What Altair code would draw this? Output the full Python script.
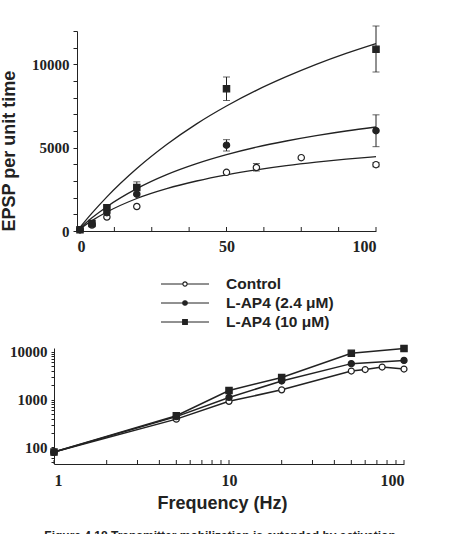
import altair as alt
import pandas as pd

INK = "#222222"
SERIF = "Liberation Serif"
SANS = "Liberation Sans"

SERIES = ["Control", "L-AP4 (2.4 μM)", "L-AP4 (10 μM)"]

# ---------- top panel: measured points (linear axes) ----------
top_ctrl_x = [1, 5, 10, 20, 50, 60, 75, 100]
top_ctrl_y = [78, 360, 840, 1470, 3520, 3810, 4400, 3980]
top_l24_x = [1, 5, 10, 20, 50, 100]
top_l24_y = [78, 420, 1100, 2210, 5150, 6020]
top_l10_x = [1, 5, 10, 20, 50, 100]
top_l10_y = [78, 450, 1400, 2610, 8540, 10900]

# error bars (top panel)
err_series = ["Control", "Control", "L-AP4 (2.4 μM)", "L-AP4 (2.4 μM)",
              "L-AP4 (10 μM)", "L-AP4 (10 μM)", "L-AP4 (10 μM)"]
err_x = [60, 100, 50, 100, 20, 50, 100]
err_lo = [3600, 3850, 4800, 5060, 2280, 7830, 9540]
err_hi = [4050, 4110, 5480, 6970, 2950, 9240, 12300]

# fitted curves (top panel)
fit_x = [0, 5, 10, 20, 30, 40, 50, 60, 70, 80, 90, 100]
fit_ctrl = [0, 625, 1140, 1950, 2540, 3000, 3370, 3670, 3920, 4130, 4310, 4460]
fit_l24 = [0, 790, 1460, 2540, 3380, 4040, 4580, 5030, 5400, 5720, 6000, 6240]
fit_l10 = [0, 1070, 2050, 3750, 5190, 6430, 7500, 8440, 9260, 10000, 10660, 11250]

# ---------- bottom panel (log-log) ----------
bot_ctrl_x = [1, 5, 10, 20, 50, 60, 75, 100]
bot_ctrl_y = [80, 390, 920, 1600, 3950, 4250, 4800, 4350]
bot_l24_x = [1, 5, 10, 20, 50, 100]
bot_l24_y = [80, 440, 1110, 2450, 5650, 6600]
bot_l10_x = [1, 5, 10, 20, 50, 100]
bot_l10_y = [80, 460, 1550, 2900, 9300, 11700]

# ---------- axis ticks / labels ----------
top_x_labels = [0, 50, 100]
top_x_ticks = [0, 12.5, 25, 37.5, 50, 62.5, 75, 87.5, 100]
top_y_ticks = [0, 1000, 2000, 3000, 4000, 5000, 6000, 7000, 8000, 9000, 10000, 11000, 12000]
top_y_labels = [0, 5000, 10000]
bot_x_labels = [1, 10, 100]
bot_x_ticks = [1, 2, 3, 4, 5, 6, 7, 8, 9, 10, 20, 30, 40, 50, 60, 70, 80, 90, 100]
bot_y_ticks = [50, 60, 70, 80, 90, 100, 200, 300, 400, 500, 600, 700, 800, 900,
               1000, 2000, 3000, 4000, 5000, 6000, 7000, 8000, 9000, 10000]
bot_y_labels = [100, 1000, 10000]

CAPTION = "Figure 4.18 Transmitter mobilization is extended by activation"


def long_df(pairs):
    rows = []
    for name, xs, ys in pairs:
        for x, y in zip(xs, ys):
            rows.append({"series": name, "x": x, "y": y})
    return pd.DataFrame(rows)


top_pts_df = long_df([(SERIES[0], top_ctrl_x, top_ctrl_y),
                      (SERIES[1], top_l24_x, top_l24_y),
                      (SERIES[2], top_l10_x, top_l10_y)])
fit_df = long_df([(SERIES[0], fit_x, fit_ctrl),
                  (SERIES[1], fit_x, fit_l24),
                  (SERIES[2], fit_x, fit_l10)])
err_df = pd.DataFrame({"series": err_series, "x": err_x, "lo": err_lo, "hi": err_hi})
bot_df = long_df([(SERIES[0], bot_ctrl_x, bot_ctrl_y),
                  (SERIES[1], bot_l24_x, bot_l24_y),
                  (SERIES[2], bot_l10_x, bot_l10_y)])
top_tick_df = pd.DataFrame({"x": top_x_ticks})
bot_tick_df = pd.DataFrame({"x": bot_x_ticks})
leg_df = pd.DataFrame({"series": SERIES})

shape_scale = alt.Scale(domain=SERIES, range=["circle", "circle", "square"])
fill_scale = alt.Scale(domain=SERIES, range=["white", INK, INK])

# ---------- top panel ----------
W_TOP, H_TOP, SHIFT = 322, 200, 23
x_top = alt.Scale(domain=[0, 100], range=[SHIFT, W_TOP], nice=False, zero=False)
y_top = alt.Scale(domain=[0, 12000], nice=False, zero=False)

top_lbl_expr = "indexof([" + ",".join(str(v) for v in top_y_labels) + "], datum.value) >= 0 ? datum.label : ''"

x_top_axis = alt.Axis(values=top_x_labels, ticks=False, grid=False, title=None,
                      labelFont=SERIF, labelFontWeight="bold", labelFontSize=16,
                      labelColor=INK, labelPadding=7, domainColor=INK, format="d",
                      labelOverlap=False)
y_top_axis = alt.Axis(values=top_y_ticks, labelExpr=top_lbl_expr, format="d", grid=False,
                      tickCount=len(top_y_ticks),
                      offset=-SHIFT, tickSize=4, tickColor=INK, domainColor=INK,
                      labelFont=SERIF, labelFontWeight="bold", labelFontSize=15,
                      labelColor=INK, labelPadding=4, labelOverlap=False,
                      title="EPSP per unit time", titleFont=SANS, titleFontWeight="bold",
                      titleFontSize=18, titleColor=INK, titleAnchor="start", titlePadding=13)


def tx(field="x"):
    return alt.X(f"{field}:Q", scale=x_top, axis=x_top_axis)


def ty(field="y"):
    return alt.Y(f"{field}:Q", scale=y_top, axis=y_top_axis)


top_fit = alt.Chart(fit_df).mark_line(color=INK, strokeWidth=1.3, interpolate="monotone").encode(
    x=tx(), y=ty(), detail="series:N")
top_err = alt.Chart(err_df).mark_rule(color=INK, strokeWidth=1).encode(
    x=tx(), y=ty("lo"), y2="hi:Q")
top_cap_lo = alt.Chart(err_df).mark_tick(orient="horizontal", size=7, thickness=1, color=INK).encode(
    x=tx(), y=ty("lo"))
top_cap_hi = alt.Chart(err_df).mark_tick(orient="horizontal", size=7, thickness=1, color=INK).encode(
    x=tx(), y=ty("hi"))
top_pts = alt.Chart(top_pts_df).mark_point(opacity=1, fillOpacity=1, strokeWidth=1.2).encode(
    x=tx(), y=ty(),
    shape=alt.Shape("series:N", scale=shape_scale, legend=None),
    fill=alt.Fill("series:N", scale=fill_scale, legend=None),
    size=alt.Size("series:N", scale=alt.Scale(domain=SERIES, range=[40, 40, 50]), legend=None),
    stroke=alt.value(INK))
top_ticks = alt.Chart(top_tick_df).mark_rule(color=INK, strokeWidth=1).encode(
    x=tx(), y=alt.value(H_TOP), y2=alt.value(H_TOP - 4))

top = alt.layer(top_fit, top_err, top_cap_lo, top_cap_hi, top_pts, top_ticks).properties(
    width=W_TOP, height=H_TOP)

# ---------- legend (between panels) ----------
W_BOT, H_BOT = 350, 116
leg_y = alt.Y("series:N", scale=alt.Scale(type="point", domain=SERIES, range=[20, 58], padding=0),
              axis=None)
leg_line = alt.Chart(leg_df).mark_rule(color=INK, strokeWidth=1).encode(
    y=leg_y, x=alt.value(107), x2=alt.value(155))
leg_pts = alt.Chart(leg_df).mark_point(opacity=1, fillOpacity=1, strokeWidth=1.1).encode(
    y=leg_y, x=alt.value(131),
    shape=alt.Shape("series:N", scale=shape_scale, legend=None),
    fill=alt.Fill("series:N", scale=fill_scale, legend=None),
    size=alt.Size("series:N", scale=alt.Scale(domain=SERIES, range=[18, 22, 26]), legend=None),
    stroke=alt.value(INK))
leg_txt = alt.Chart(leg_df).mark_text(align="left", baseline="middle", font=SANS, fontWeight="bold",
                                      fontSize=15.5, color=INK).encode(
    y=leg_y, x=alt.value(172), text="series:N")
legend = alt.layer(leg_line, leg_pts, leg_txt).properties(width=W_BOT, height=68)

# ---------- bottom panel ----------
x_bot = alt.Scale(type="log", domain=[1, 100], nice=False)
y_bot = alt.Scale(type="log", domain=[45, 12000], nice=False)
bot_lbl_expr = "indexof([" + ",".join(str(v) for v in bot_y_labels) + "], datum.value) >= 0 ? datum.label : ''"

x_bot_axis = alt.Axis(values=bot_x_labels, ticks=False, grid=False, format="d",
                      labelFont=SERIF, labelFontWeight="bold", labelFontSize=16, labelColor=INK,
                      labelPadding=8, domainColor=INK, labelOverlap=False,
                      title="Frequency (Hz)", titleFont=SANS, titleFontWeight="bold",
                      titleFontSize=18, titleColor=INK, titlePadding=6,
                      titleX=168, titleAlign="center")
y_bot_axis = alt.Axis(values=bot_y_ticks, labelExpr=bot_lbl_expr, format="d", grid=False,
                      tickSize=3, tickColor=INK, domainColor=INK, labelOverlap=False,
                      labelFont=SERIF, labelFontWeight="bold", labelFontSize=15, labelColor=INK,
                      labelPadding=4, title=None)


def bx(field="x"):
    return alt.X(f"{field}:Q", scale=x_bot, axis=x_bot_axis)


def by(field="y"):
    return alt.Y(f"{field}:Q", scale=y_bot, axis=y_bot_axis)


bot_line = alt.Chart(bot_df).mark_line(color=INK, strokeWidth=1.5).encode(
    x=bx(), y=by(), detail="series:N")
bot_pts = alt.Chart(bot_df).mark_point(opacity=1, fillOpacity=1, strokeWidth=1.2).encode(
    x=bx(), y=by(),
    shape=alt.Shape("series:N", scale=shape_scale, legend=None),
    fill=alt.Fill("series:N", scale=fill_scale, legend=None),
    size=alt.Size("series:N", scale=alt.Scale(domain=SERIES, range=[36, 40, 48]), legend=None),
    stroke=alt.value(INK))
bot_ticks = alt.Chart(bot_tick_df).mark_rule(color=INK, strokeWidth=1).encode(
    x=bx(), y=alt.value(H_BOT), y2=alt.value(H_BOT - 4))

bottom = alt.layer(bot_line, bot_pts, bot_ticks).properties(width=W_BOT, height=H_BOT)

chart = alt.vconcat(top, legend, bottom, spacing=10).resolve_scale(size="independent").properties(
    padding={"left": 0, "top": 24, "right": 10, "bottom": 2},
    title=alt.TitleParams(CAPTION, orient="bottom", anchor="middle", font=SANS, fontWeight="bold",
                          fontSize=12, color=INK, offset=19, dx=15),
).configure_view(stroke=None)

chart.save("out.html", embed_options={"renderer": "svg", "actions": False})
